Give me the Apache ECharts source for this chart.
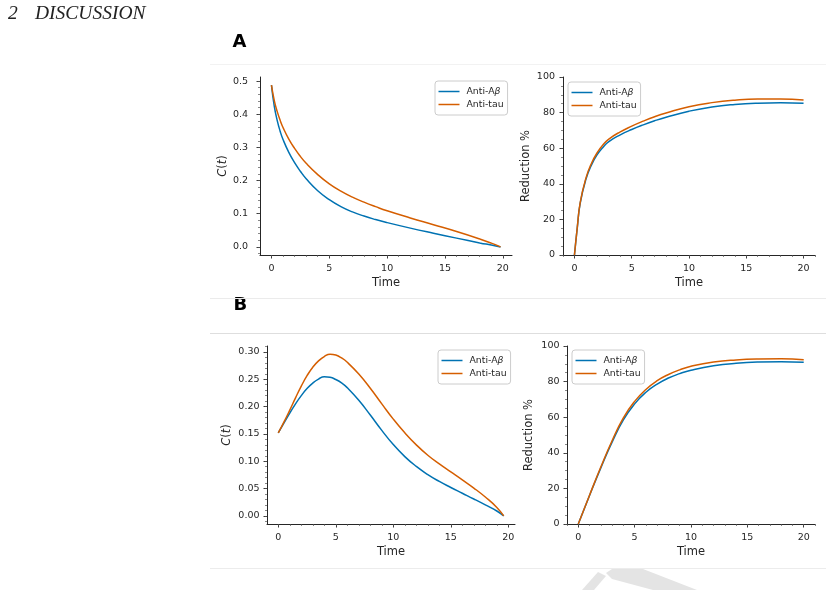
<!DOCTYPE html>
<html><head><meta charset="utf-8">
<script src="https://cdn.jsdelivr.net/npm/echarts@6/dist/echarts.min.js"></script>
<style>html,body{margin:0;padding:0;background:#fff}#c{width:830px;height:590px}</style>
</head><body><div id="c"></div>
<script>
// ---------- DATA ----------
const seriesNames = ['Anti-Aβ', 'Anti-tau'];
// Panel A, left: C(t)
const tA = [0,0.25,0.5,0.75,1,1.5,2,2.5,3,4,5,6,7,8,9,10,12,14,16,18,19,19.8];
const cA_ab  = [0.488,0.423,0.381,0.349,0.324,0.285,0.254,0.228,0.2055,0.1695,0.1425,0.1215,0.1055,0.093,0.0825,0.0733,0.0567,0.0413,0.0265,0.0121,0.0055,0];
const cA_tau = [0.488,0.4405,0.408,0.382,0.360,0.325,0.297,0.273,0.252,0.218,0.190,0.168,0.150,0.135,0.1215,0.109,0.0874,0.067,0.0464,0.024,0.0115,0];
// Panel A, right: Reduction %
const tAr = [0,0.25,0.5,1,1.5,2,2.5,3,4,5,6,7,8,10,12,14,16,18,20];
const redA_ab  = [0,15.5,29,42.5,50.8,56.5,60.6,63.7,67.5,70.5,73.1,75.4,77.4,80.8,83.2,84.6,85.3,85.5,85.2];
const redA_tau = [0,15.7,29.4,43.2,51.7,57.6,61.9,65.1,69.2,72.4,75.2,77.7,79.8,83.3,85.6,87.0,87.6,87.6,87.1];
// Panel B, left: C(t)
const tB = [0,0.5,1,1.5,2,2.5,3,3.5,4,4.5,5,5.5,6,7,8,9,10,11,12,13,14,15,16,17,18,19,19.6];
const cB_ab  = [0.152,0.170,0.188,0.205,0.220,0.233,0.243,0.2502,0.2545,0.2535,0.2495,0.2435,0.2345,0.2115,0.1845,0.1565,0.1305,0.1085,0.0905,0.0755,0.063,0.052,0.0415,0.031,0.0202,0.009,0];
const cB_tau = [0.152,0.172,0.1935,0.216,0.2375,0.2565,0.272,0.2835,0.2915,0.2958,0.2942,0.289,0.281,0.2595,0.2335,0.205,0.177,0.152,0.130,0.111,0.095,0.0805,0.066,0.051,0.0345,0.0155,0];
// Panel B, right: Reduction %
const tBr = [0,1,2,3,4,5,6,7,8,9,10,12,14,16,18,20];
const redB_ab  = [0,16,31.5,46,58.5,67.5,74,78.6,82,84.5,86.4,88.9,90.3,90.96,91.12,90.82];
const redB_tau = [0,16.2,32,46.8,59.6,68.9,75.6,80.5,84.0,86.6,88.6,91.0,92.2,92.7,92.8,92.3];
// Tick labels
const xTicks = [0,5,10,15,20];
const yTicksA = [0,0.1,0.2,0.3,0.4,0.5];
const yTicksB = [0,0.05,0.10,0.15,0.20,0.25,0.30];
const yTicksRed = [0,20,40,60,80,100];

// ---------- STYLE ----------
const FONT = 'DejaVu Sans';
const INK = '#262626';
const COLORS = ['#0072B2', '#D55E00'];

function range(a, b, s) { const o = []; for (let v = a; v <= b + 1e-9; v += s) o.push(+v.toFixed(4)); return o; }
function inRange(arr, lo, hi) { return arr.filter(v => v >= lo - 1e-9 && v <= hi + 1e-9); }
function pairs(t, v) { return t.map((x, i) => [x, v[i]]); }

const panels = [
  {grid:{left:260, top:77, width:252, height:178}, x:[-0.99,20.79], y:[-0.0244,0.5124], yTicks:yTicksA, yMinorStep:0.02, fmt:v=>v.toFixed(1), yName:'{i|C}{n|(}{i|t}{n|)}', nameGap:27, labMargin:12, t:tA, d:[cA_ab,cA_tau], legend:{left:435, top:81}},
  {grid:{left:563, top:77, width:252, height:178}, x:[-1,21], y:[0,100], yTicks:yTicksRed, yMinorStep:5, fmt:v=>String(v), yName:'{n|Reduction %}', nameGap:31, labMargin:8, t:tAr, d:[redA_ab,redA_tau], legend:{left:568, top:82}},
  {grid:{left:267, top:346, width:248, height:178}, x:[-0.98,20.58], y:[-0.0148,0.3108], yTicks:yTicksB, yMinorStep:0.01, fmt:v=>v.toFixed(2), yName:'{i|C}{n|(}{i|t}{n|)}', nameGap:34, labMargin:7.5, t:tB, d:[cB_ab,cB_tau], legend:{left:438, top:350}},
  {grid:{left:567, top:346, width:248, height:178}, x:[-1,21], y:[0,100], yTicks:yTicksRed, yMinorStep:5, fmt:v=>String(v), yName:'{n|Reduction %}', nameGap:32, labMargin:7.5, t:tBr, d:[redB_ab,redB_tau], legend:{left:572, top:350}}
];

const grid = [], xAxis = [], yAxis = [], series = [], legend = [];
const nameRich = {
  n: {fontFamily: FONT, fontSize: 11.5, color: INK},
  i: {fontFamily: FONT, fontSize: 11.5, color: INK, fontStyle: 'italic'}
};
panels.forEach((p, gi) => {
  grid.push(Object.assign({containLabel:false}, p.grid));
  const xi = xAxis.length, yi = yAxis.length;
  xAxis.push({type:'value', gridIndex:gi, position:'bottom', offset:0, min:p.x[0], max:p.x[1],
    axisLine:{show:true, onZero:false, lineStyle:{color:INK, width:1}},
    axisTick:{show:true, length:3.5, customValues:xTicks, lineStyle:{color:INK, width:0.9}},
    axisLabel:{show:true, customValues:xTicks, margin:9, fontFamily:FONT, fontSize:9.5, color:INK},
    splitLine:{show:false},
    name:'Time', nameLocation:'middle', nameGap:22,
    nameTextStyle:{fontFamily:FONT, fontSize:11.5, color:INK}
  });
  xAxis.push({type:'value', gridIndex:gi, position:'bottom', offset:0, min:p.x[0], max:p.x[1],
    axisLine:{show:false, onZero:false}, axisLabel:{show:false}, splitLine:{show:false},
    axisTick:{show:true, length:2, customValues:inRange(range(-1,21,1), p.x[0], p.x[1]), lineStyle:{color:'#555', width:0.7}}
  });
  yAxis.push({type:'value', gridIndex:gi, position:'left', offset:0, min:p.y[0], max:p.y[1],
    axisLine:{show:true, onZero:false, lineStyle:{color:INK, width:1}},
    axisTick:{show:true, length:3.5, customValues:p.yTicks, lineStyle:{color:INK, width:0.9}},
    axisLabel:{show:true, customValues:p.yTicks, margin:p.labMargin, formatter:p.fmt, fontFamily:FONT, fontSize:9.5, color:INK},
    splitLine:{show:false},
    name:p.yName, nameLocation:'middle', nameGap:p.nameGap, nameRotate:90,
    nameTextStyle:{rich:nameRich}
  });
  yAxis.push({type:'value', gridIndex:gi, position:'left', offset:0, min:p.y[0], max:p.y[1],
    axisLine:{show:false, onZero:false}, axisLabel:{show:false}, splitLine:{show:false},
    axisTick:{show:true, length:2, customValues:inRange(range(p.y[0] < 0 ? -p.yMinorStep : 0, p.y[1], p.yMinorStep), p.y[0], p.y[1]), lineStyle:{color:'#555', width:0.7}}
  });
  seriesNames.forEach((nm, k) => {
    series.push({type:'line', name:nm, xAxisIndex:xi, yAxisIndex:yi,
      data:pairs(p.t, p.d[k]), showSymbol:false, symbol:'none',
      smooth:0.5,
      lineStyle:{color:COLORS[k], width:1.5}, itemStyle:{color:COLORS[k]},
      emphasis:{disabled:true}, animation:false, silent:true, z:3});
  });
  legend.push({data:seriesNames, orient:'vertical', left:p.legend.left, top:p.legend.top,
    padding:[5,4,5,3.5], itemWidth:21, itemHeight:1.5, itemGap:2, icon:'rect',
    backgroundColor:'rgba(255,255,255,0.85)', borderColor:'#cccccc', borderWidth:1, borderRadius:3,
    selectedMode:false,
    formatter: nm => nm === 'Anti-Aβ' ? '{n|Anti-A}{g|β}' : '{n|' + nm + '}',
    textStyle:{fontFamily:FONT, fontSize:9.3, color:INK, lineHeight:11, padding:[0,0,0,2],
      rich:{n:{fontFamily:FONT, fontSize:9.3, color:INK}, g:{fontFamily:FONT, fontSize:9.3, color:INK, fontStyle:'italic'}}}
  });
});

const graphic = [
  {type:'text', left:8, top:4, style:{text:'2', font:'italic 19.5px "Liberation Serif"', fill:'#222'}},
  {type:'text', left:35, top:4, style:{text:'DISCUSSION', font:'italic 19.5px "Liberation Serif"', fill:'#222'}},
  {type:'text', left:232.5, top:33, style:{text:'A', font:'bold 18px "DejaVu Sans"', fill:'#000'}},
  {type:'text', left:233.5, top:296.5, style:{text:'B', font:'bold 18px "DejaVu Sans"', fill:'#000'}},
  {type:'line', shape:{x1:210, y1:64.5, x2:826, y2:64.5}, style:{stroke:'#f2f2f2', lineWidth:1}},
  {type:'line', shape:{x1:210, y1:298.5, x2:826, y2:298.5}, style:{stroke:'#ebebeb', lineWidth:1}},
  {type:'line', shape:{x1:210, y1:333.5, x2:826, y2:333.5}, style:{stroke:'#dedede', lineWidth:1}},
  {type:'line', shape:{x1:210, y1:568.5, x2:826, y2:568.5}, style:{stroke:'#ececec', lineWidth:1}},
  {type:'polygon', shape:{points:[[582,590],[594,590],[606,576],[598,572]]}, style:{fill:'#e4e4e4'}},
  {type:'polygon', shape:{points:[[606,573],[612,569],[643,569],[697,590],[653,590],[612,579]]}, style:{fill:'#e4e4e4'}}
];

const chart = echarts.init(document.getElementById('c'), null, {renderer:'canvas'});
chart.setOption({animation:false, backgroundColor:'#ffffff', grid, xAxis, yAxis, series, legend, graphic});
</script></body></html>
